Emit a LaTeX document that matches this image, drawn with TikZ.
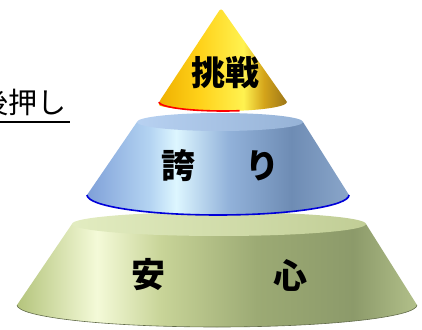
\documentclass[tikz,border=0pt]{standalone}
\usepackage{fontspec}
\usepackage{xcolor}
\usepackage{tikz}
\usetikzlibrary{calc,positioning}
\newfontfamily\cjk{Noto Sans CJK JP}

\definecolor{goldA}{HTML}{EFB000}
\definecolor{goldB}{HTML}{FFD21A}
\definecolor{goldC}{HTML}{FFF250}
\definecolor{goldD}{HTML}{D4A41A}
\definecolor{goldE}{HTML}{9C7618}
\definecolor{skyA}{HTML}{7FA0D8}
\definecolor{skyB}{HTML}{B4D4F2}
\definecolor{skyC}{HTML}{DDF6FF}
\definecolor{skyD}{HTML}{92B2DA}
\definecolor{skyE}{HTML}{6E8CB4}
\definecolor{skyF}{HTML}{8AA6CA}
\definecolor{skyTop}{HTML}{A6C6EE}
\definecolor{oliveA}{HTML}{B4C47C}
\definecolor{oliveB}{HTML}{F4FAD8}
\definecolor{oliveC}{HTML}{C8D498}
\definecolor{oliveD}{HTML}{9CAA74}
\definecolor{oliveE}{HTML}{8C9A6A}
\definecolor{oliveF}{HTML}{B2C08A}
\definecolor{oliveTop}{HTML}{D6E4A6}

\pgfdeclarehorizontalshading{goldcone}{100bp}{color(0bp)=(goldA); color(25bp)=(goldA); color(41bp)=(goldB); color(58bp)=(goldC); color(66bp)=(goldD); color(75bp)=(goldE); color(100bp)=(goldE)}
\pgfdeclarehorizontalshading{skycone}{100bp}{color(0bp)=(skyA); color(25bp)=(skyA); color(37bp)=(skyB); color(42bp)=(skyC); color(52bp)=(skyD); color(64bp)=(skyE); color(75bp)=(skyF); color(100bp)=(skyF)}
\pgfdeclarehorizontalshading{olivecone}{100bp}{color(0bp)=(oliveA); color(25bp)=(oliveA); color(35bp)=(oliveB); color(43bp)=(oliveC); color(55bp)=(oliveD); color(67bp)=(oliveE); color(75bp)=(oliveF); color(100bp)=(oliveF)}

\tikzset{
  lbl/.style={font=\cjk\bfseries\fontsize{34}{34}\selectfont, inner sep=0pt},
  tagtext/.style={font=\cjk\fontsize{29}{29}\selectfont, inner sep=0pt}
}

\begin{document}
\begin{tikzpicture}[x=1pt,y=1pt]
\clip (0,0) rectangle (422,329);
%\draw[help lines] (0,0) grid[step=20] (422,329);
% bottom tier
\coordinate (gt) at (219,105); \coordinate (gb) at (217,24);
\shade[shading=olivecone] ($(gt)+(-147,0)$) -- ($(gb)+(-200,0)$)
  arc[start angle=180, end angle=360, x radius=200, y radius=22] -- ($(gt)+(147,0)$) -- cycle;
\draw[oliveE!70!black, line width=0.6pt] ($(gb)+(-200,0)$) arc[start angle=180, end angle=360, x radius=200, y radius=22];
\shade[left color=oliveTop!70!white, right color=oliveTop!90!black] (gt) ellipse[x radius=147, y radius=12];
% middle tier
\coordinate (bt) at (220,207); \coordinate (bb) at (218,134);
\shade[shading=skycone] ($(bt)+(-83,0)$) -- ($(bb)+(-131,0)$)
  arc[start angle=180, end angle=360, x radius=131, y radius=20] -- ($(bt)+(83,0)$) -- cycle;
\draw[blue!85!black, line width=1.6pt] ($(bb)+(-131,0)$) arc[start angle=180, end angle=360, x radius=131, y radius=20];
\shade[left color=skyTop!80!white, right color=skyTop!90!black] (bt) ellipse[x radius=83, y radius=9];
% top cone
\coordinate (apex) at (221,321); \coordinate (yb) at (223,227);
\shade[shading=goldcone, rounded corners=3pt] (apex) -- ($(yb)+(-64,0)$) [sharp corners]
  arc[start angle=180, end angle=360, x radius=64, y radius=9] [rounded corners=3pt] -- cycle;
\draw[red, line width=1.6pt] ($(yb)+(-64,0)$) arc[start angle=180, end angle=285, x radius=64, y radius=9];
% labels
\node[lbl] (chal) at (225,256) {挑戦};
\node[lbl] (pride1) at (178,163) {誇};
\node[lbl] (pride2) at (262,163) {り};
\node[lbl] (safe1) at (148,54) {安};
\node[lbl] (safe2) at (290,54) {心};
\node[tagtext, anchor=east] (push) at (67,226) {後押し};
\draw[line width=2pt] ([yshift=-5pt]push.south west) -- ([xshift=3pt,yshift=-5pt]push.south east);
\end{tikzpicture}
\end{document}
